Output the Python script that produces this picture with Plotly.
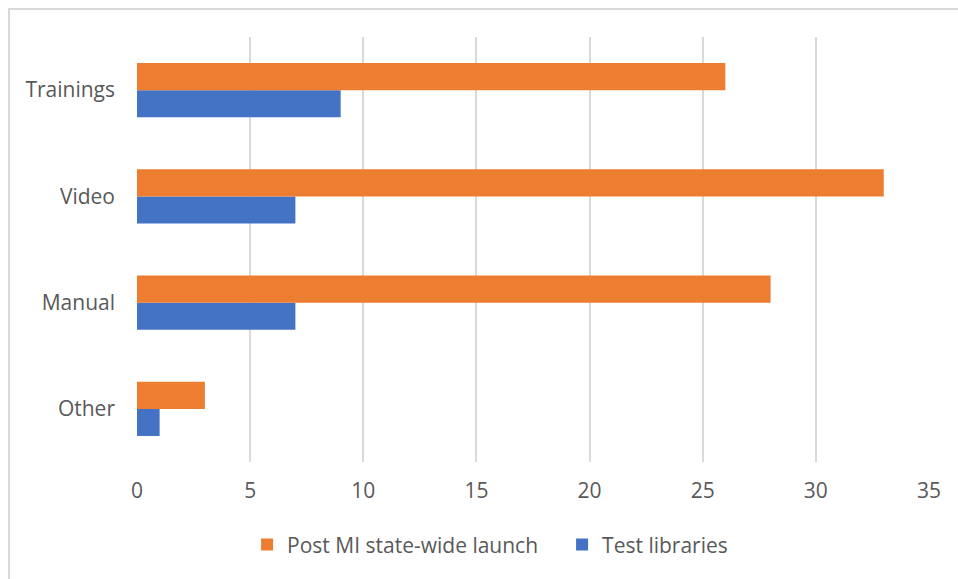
import plotly.graph_objects as go

# Categories listed bottom-to-top
categories = ["Other", "Manual", "Video", "Trainings"]
post_launch = [3, 28, 33, 26]
test_libraries = [1, 7, 7, 9]
x_ticks = [0, 5, 10, 15, 20, 25, 30, 35]

ORANGE = "#ED7D31"
BLUE = "#4472C4"
TEXT = "#595959"
GRID = "#D9D9D9"

fig = go.Figure()
fig.add_trace(go.Bar(
    y=categories, x=test_libraries, orientation="h",
    name="Test libraries", marker=dict(color=BLUE, line=dict(width=0)),
    legendrank=2,
))
fig.add_trace(go.Bar(
    y=categories, x=post_launch, orientation="h",
    name="Post MI state-wide launch", marker=dict(color=ORANGE, line=dict(width=0)),
    legendrank=1,
))

fig.update_layout(
    width=958, height=579,
    margin=dict(l=137, r=29, t=37, b=117, autoexpand=False),
    paper_bgcolor="white", plot_bgcolor="white",
    barmode="group", bargap=0.49, bargroupgap=0,
    font=dict(family="Open Sans, Liberation Sans, sans-serif", size=21, color=TEXT),
    legend=dict(
        orientation="h", x=0.139, xanchor="left", y=-0.195, yanchor="middle",
        font=dict(size=21, color=TEXT), itemwidth=30, traceorder="normal",
        entrywidth=270, entrywidthmode="pixels",
    ),
    xaxis=dict(
        range=[0, 35], tickvals=x_ticks, showgrid=True, gridcolor=GRID, gridwidth=2,
        zeroline=False, showline=False, ticks="", ticklabelstandoff=14,
        fixedrange=True,
    ),
    yaxis=dict(
        showgrid=False, zeroline=False, showline=False, ticks="",
        ticklabelstandoff=21, fixedrange=True,
    ),
    shapes=[dict(
        type="rect", xref="paper", yref="paper",
        x0=-0.1616, x1=1.2, y0=-0.5, y1=1.0659,
        line=dict(color=GRID, width=2), layer="below",
    )],
)

fig.write_html("out.html")
